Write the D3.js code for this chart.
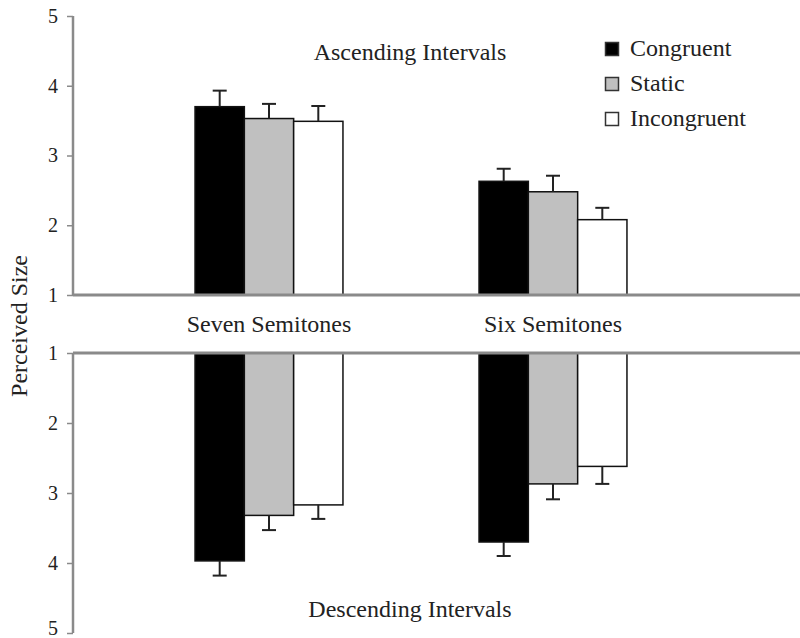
<!DOCTYPE html>
<html><head><meta charset="utf-8">
<script src="https://cdn.jsdelivr.net/npm/d3@7"></script>
<style>body{margin:0;background:#fff}svg{display:block}text{font-family:"Liberation Serif","Times New Roman","DejaVu Serif",serif;fill:#222}</style>
</head><body>
<script>
const categories = ["Seven Semitones", "Six Semitones"];
const series = ["Congruent", "Static", "Incongruent"];
const fills = ["#000000", "#c0c0c0", "#ffffff"];
// Ascending intervals (top panel)
const ascValues = [[3.70, 3.53, 3.49], [2.63, 2.48, 2.08]];
const ascErrors = [[0.23, 0.21, 0.22], [0.18, 0.23, 0.17]];
// Descending intervals (bottom panel)
const descValues = [[3.97, 3.32, 3.17], [3.70, 2.87, 2.62]];
const descErrors = [[0.21, 0.21, 0.20], [0.20, 0.22, 0.25]];
const tickValues = [1, 2, 3, 4, 5];

const W = 800, H = 638;
const svg = d3.select("body").append("svg").attr("width", W).attr("height", H);
const axisX = 73;
const yTop = d3.scaleLinear().domain([1, 5]).range([295, 16]);
const yBot = d3.scaleLinear().domain([1, 5]).range([353, 633]);
const x0 = d3.scaleBand().domain(categories).range([127, 695]);
const x1 = d3.scaleBand().domain(series).range([0, x0.bandwidth()]).paddingOuter(1.38);
const color = d3.scaleOrdinal().domain(series).range(fills);

function panel(y, values, errors, isBottom) {
  const g = svg.append("g");
  const ax = g.append("g").attr("transform", `translate(${axisX},0)`)
    .call(d3.axisLeft(y).tickValues(tickValues).tickSize(6).tickPadding(9).tickFormat(d3.format("d")));
  ax.attr("font-family", null);
  ax.select(".domain").attr("stroke", "#8a8a8a").attr("stroke-width", 2.5).attr("d", `M-0,${y.range()[0]}V${y.range()[1]}`);
  ax.selectAll(".tick line").attr("stroke", "#8a8a8a").attr("stroke-width", 1.5);
  ax.selectAll(".tick text").attr("font-size", 20).attr("fill", "#222");
  if (isBottom) ax.selectAll(".tick text").filter(d => d === 5).attr("dy", "0.05em");
  categories.forEach((c, ci) => {
    series.forEach((s, si) => {
      const v = values[ci][si], e = errors[ci][si];
      const bx = x0(c) + x1(s), bw = x1.bandwidth();
      const y0 = y(1), yv = y(v);
      g.append("rect").attr("x", bx).attr("width", bw)
        .attr("y", Math.min(y0, yv)).attr("height", Math.abs(yv - y0))
        .attr("fill", color(s)).attr("stroke", "#111").attr("stroke-width", 1.5);
      const cx = bx + bw / 2, ye = y(v + e);
      g.append("line").attr("x1", cx).attr("x2", cx).attr("y1", yv).attr("y2", ye)
        .attr("stroke", "#222").attr("stroke-width", 2);
      g.append("line").attr("x1", cx - 7).attr("x2", cx + 7).attr("y1", ye).attr("y2", ye)
        .attr("stroke", "#222").attr("stroke-width", 2);
    });
  });
  g.append("line").attr("x1", axisX).attr("x2", W).attr("y1", y(1)).attr("y2", y(1))
    .attr("stroke", "#8a8a8a").attr("stroke-width", 3);
}
panel(yTop, ascValues, ascErrors, false);
panel(yBot, descValues, descErrors, true);

svg.selectAll("text.cat").data(categories).enter().append("text").attr("class", "cat")
  .attr("x", d => x0(d) + x0.bandwidth() / 2).attr("y", 332)
  .attr("text-anchor", "middle").attr("font-size", 24).text(d => d);

svg.append("text").attr("x", 410).attr("y", 60).attr("text-anchor", "middle").attr("font-size", 24).text("Ascending Intervals");
svg.append("text").attr("x", 410).attr("y", 617).attr("text-anchor", "middle").attr("font-size", 24).text("Descending Intervals");
svg.append("text").attr("transform", "translate(27,326) rotate(-90)").attr("text-anchor", "middle").attr("font-size", 24).text("Perceived Size");

const lg = svg.append("g").attr("transform", "translate(605,42)");
series.forEach((s, i) => {
  const r = lg.append("g").attr("transform", `translate(0,${i * 35})`);
  r.append("rect").attr("x", 0.5).attr("y", 0.5).attr("width", 13).attr("height", 13)
    .attr("fill", color(s)).attr("stroke", "#333").attr("stroke-width", 1.5);
  r.append("text").attr("x", 25).attr("y", 14).attr("font-size", 24).text(s);
});
</script>
</body></html>
